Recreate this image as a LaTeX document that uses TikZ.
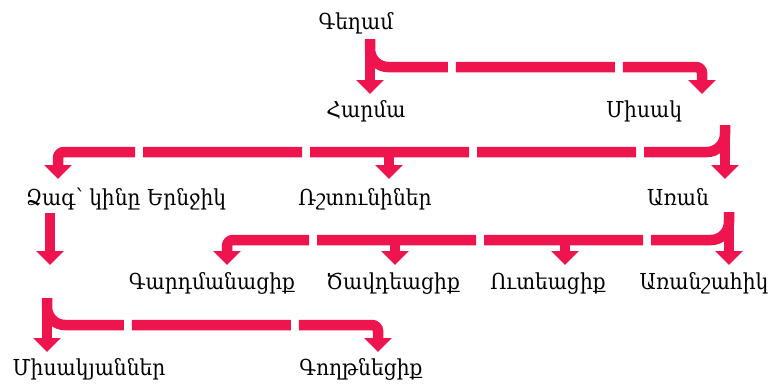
\documentclass[tikz,border=0pt]{standalone}
\usepackage{fontspec}
\setmainfont[FakeStretch=0.92]{DejaVu Serif}
\usetikzlibrary{arrows.meta}
\definecolor{linkred}{RGB}{238,20,78}
\begin{document}
\begin{tikzpicture}[x=1pt,y=-1pt,
  lbl/.style={font=\fontsize{22}{24}\selectfont, inner sep=0pt, anchor=base},
  trunk/.style={draw=linkred, line width=10.5pt, -{Triangle[width=27pt,length=14pt]}},
  branch/.style={trunk, dash pattern=on 159pt off 8pt},
]
\useasboundingbox (0,0) rectangle (775,384);

% names
\node[lbl] (gegham)   at (356,29)  {Գեղամ};
\node[lbl] (harma)    at (366,117) {Հարմա};
\node[lbl] (misak)    at (644,117) {Միսակ};
\node[lbl] (dzag)     at (126,205) {Ձագ՝ կինը Երնջիկ};
\node[lbl] (rshtun)   at (365,205) {Ռշտունիներ};
\node[lbl] (aran)     at (678,205) {Առան};
\node[lbl] (gard)     at (212,289) {Գարդմանացիք};
\node[lbl] (tsav)     at (393,289) {Ծավդեացիք};
\node[lbl] (ute)      at (548,289) {Ուտեացիք};
\node[lbl] (aransh)   at (704,289) {Առանշահիկ};
\node[lbl] (misakyan) at (89,375)  {Միսակյաններ};
\node[lbl] (goght)    at (361,375) {Գողթնեցիք};

% ports and bends
\coordinate (gegham-out) at (370,39);
\coordinate (j1) at (370,67);
\coordinate (c1) at (702,67);
\coordinate (harma-in) at (370,94);
\coordinate (misak-in) at (702,94);

\coordinate (misak-out) at (725,125);
\coordinate (j2) at (725,152);
\coordinate (c2) at (58,152);
\coordinate (m2) at (389,152);
\coordinate (dzag-in) at (58,179);
\coordinate (rshtun-in) at (389,179);
\coordinate (aran-in) at (725,179);

\coordinate (aran-out) at (729,212);
\coordinate (j3) at (729,240);
\coordinate (c3) at (227,240);
\coordinate (m3a) at (395,240);
\coordinate (m3b) at (565,240);
\coordinate (gard-in) at (227,265);
\coordinate (tsav-in) at (395,265);
\coordinate (ute-in) at (565,265);
\coordinate (aransh-in) at (729,265);

\coordinate (dzag-out) at (50,213);
\coordinate (dzag-end) at (50,265);

\coordinate (kin-out) at (47,298);
\coordinate (j4) at (47,325);
\coordinate (c4) at (378,325);
\coordinate (misakyan-in) at (47,352);
\coordinate (goght-in) at (378,352);

% Gegham: fillet at the junction, tight corner at the far end
\draw[trunk] (gegham-out) -- (harma-in);
\draw[branch, dash phase=61pt, rounded corners=18pt]
  (gegham-out) -- (j1) [rounded corners=6pt] -- (c1) -- (misak-in);

% Misak
\draw[trunk] (misak-out) -- (aran-in);
\draw[branch, dash phase=59pt, rounded corners=18pt]
  (misak-out) -- (j2) [rounded corners=6pt] -- (c2) -- (dzag-in);
\draw[trunk] (m2) -- (rshtun-in);

% Aran
\draw[trunk] (aran-out) -- (aransh-in);
\draw[branch, dash phase=61pt, rounded corners=18pt]
  (aran-out) -- (j3) [rounded corners=6pt] -- (c3) -- (gard-in);
\draw[trunk] (m3a) -- (tsav-in);
\draw[trunk] (m3b) -- (ute-in);

% Dzag
\draw[trunk] (dzag-out) -- (dzag-end);
\draw[trunk] (kin-out) -- (misakyan-in);
\draw[branch, dash phase=63pt, rounded corners=18pt]
  (kin-out) -- (j4) [rounded corners=6pt] -- (c4) -- (goght-in);
\end{tikzpicture}
\end{document}
